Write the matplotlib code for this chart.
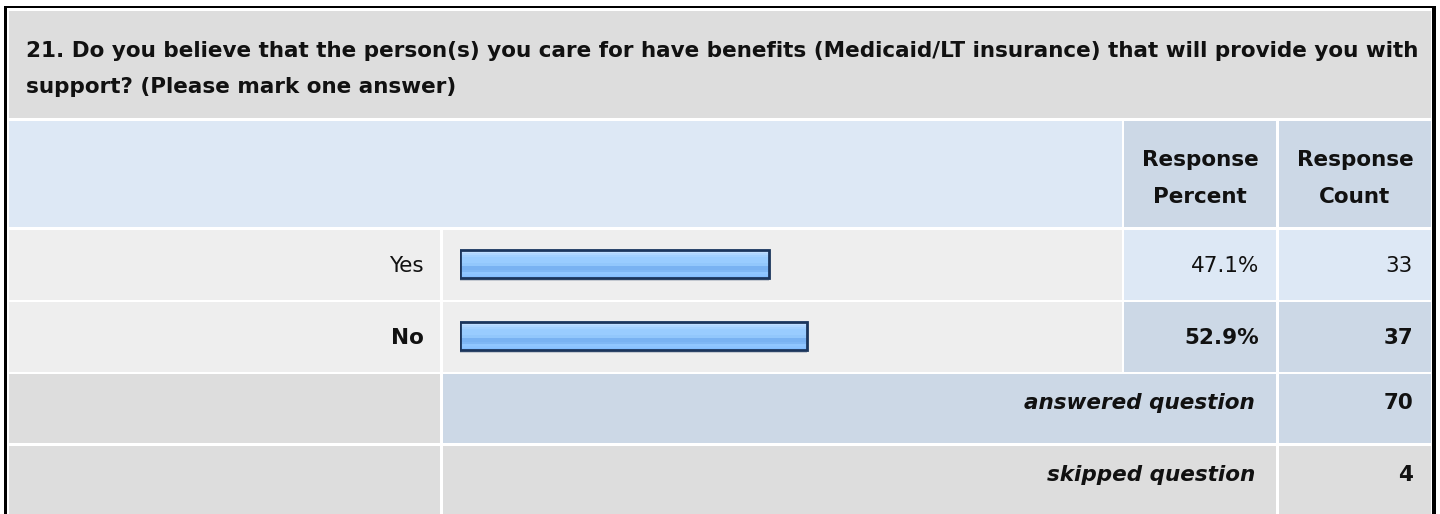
import matplotlib.pyplot as plt
from matplotlib.patches import Rectangle
import numpy as np

plt.rcParams['font.family'] = ['DejaVu Sans']

title_lines = ["21. Do you believe that the person(s) you care for have benefits (Medicaid/LT insurance) that will provide you with",
               "support? (Please mark one answer)"]
answers = ["Yes", "No"]
percents = [47.1, 52.9]
counts = [33, 37]
answered = 70
skipped = 4
header_top = ["Response", "Response"]
header_bottom = ["Percent", "Count"]

W, H = 1440, 514
fig = plt.figure(figsize=(W / 100, H / 100), dpi=100)
ax = fig.add_axes([0, 0, 1, 1])
ax.set_xlim(0, W)
ax.set_ylim(H, 0)
ax.axis('off')

GRAY = '#dddddd'
LIGHT = '#eeeeee'
BLUE = '#dde8f5'
BLUE2 = '#ccd8e6'
FS = 15.5
TXT = '#111111'

def cell(x0, x1, y0, y1, color):
    ax.add_patch(Rectangle((x0, y0), x1 - x0, y1 - y0, facecolor=color, edgecolor='none'))

# column / row edges (pixels)
cols = [(9, 440), (443, 1122), (1124, 1276), (1279, 1431)]
title_row = (11, 118)
head_row = (121, 227)
ans_rows = [(230, 300), (302, 372)]
answered_row = (374, 443)
skipped_row = (446, 520)

# outer frame
cell(4, 7, 6, H, 'black')
cell(4, 1436, 6, 8, 'black')
cell(1432, 1436, 6, H, 'black')

# title
cell(9, 1431, *title_row, GRAY)
ax.text(26, 57, title_lines[0], fontsize=FS, fontweight='bold', va='baseline', color=TXT)
ax.text(26, 93, title_lines[1], fontsize=FS, fontweight='bold', va='baseline', color=TXT)

# header
cell(9, 1122, *head_row, BLUE)
for (x0, x1), t, b in zip(cols[2:], header_top, header_bottom):
    cell(x0, x1, *head_row, BLUE2)
    xc = (x0 + x1) / 2
    ax.text(xc, 166, t, fontsize=FS, fontweight='bold', ha='center', va='baseline', color=TXT)
    ax.text(xc, 203, b, fontsize=FS, fontweight='bold', ha='center', va='baseline', color=TXT)

# answer rows
for i, (lab, p, c) in enumerate(zip(answers, percents, counts)):
    y0, y1 = ans_rows[i]
    cell(*cols[0], y0, y1, LIGHT)
    cell(*cols[1], y0, y1, LIGHT)
    bg = BLUE if i == 0 else BLUE2
    cell(*cols[2], y0, y1, bg)
    cell(*cols[3], y0, y1, bg)
    fw = 'normal' if i == 0 else 'bold'
    base = (y0 + y1) / 2 + 7
    ax.text(424, base, lab, fontsize=FS, fontweight=fw, ha='right', va='baseline', color=TXT)
    ax.text(1259, base, f"{p:.1f}%", fontsize=FS, fontweight=fw, ha='right', va='baseline', color=TXT)
    ax.text(1413, base, str(c), fontsize=FS, fontweight=fw, ha='right', va='baseline', color=TXT)

# answered / skipped
cell(*cols[0], *answered_row, GRAY)
cell(443, 1276, *answered_row, BLUE2)
cell(*cols[3], *answered_row, BLUE2)
ax.text(1255, 409, "answered question", fontsize=FS, fontweight='bold', style='italic',
        ha='right', va='baseline', color=TXT)
ax.text(1413, 409, str(answered), fontsize=FS, fontweight='bold', ha='right', va='baseline', color=TXT)

cell(*cols[0], *skipped_row, GRAY)
cell(443, 1276, *skipped_row, GRAY)
cell(*cols[3], *skipped_row, GRAY)
ax.text(1255, 481, "skipped question", fontsize=FS, fontweight='bold', style='italic',
        ha='right', va='baseline', color=TXT)
ax.text(1413, 481, str(skipped), fontsize=FS, fontweight='bold', ha='right', va='baseline', color=TXT)

# bars: 0-100% spans x 460..1116 px
bx = fig.add_axes([460 / W, (H - 372) / H, 656 / W, 144 / H])
bh = 0.40
grad = ['#c9e3ff', '#c0deff', '#afd6ff', '#a2d0ff', '#99ccff', '#99ccff', '#99ccff',
        '#92c7fc', '#79b2f2', '#79b2f2', '#7fb7f5', '#90c6ff', '#8cc3ff', '#84beff']
grad_img = np.array([[plt.matplotlib.colors.to_rgb(g)] for g in grad])
for i, p in enumerate(percents):
    # faint drop shadow under each bar
    bx.barh(i + 0.035, p, height=bh, color='#9aa4b4', alpha=0.5, zorder=0)
    bx.imshow(grad_img, extent=(0, p, i + bh / 2, i - bh / 2), origin='upper',
              aspect='auto', interpolation='nearest', zorder=1)
bx.barh(range(len(percents)), percents, height=bh, fill=False,
        edgecolor='#1b355c', linewidth=2.0, zorder=2)
bx.set_xlim(0, 100)
bx.set_ylim(1.5, -0.5)
bx.axis('off')

fig.savefig('out.png', dpi=100)
